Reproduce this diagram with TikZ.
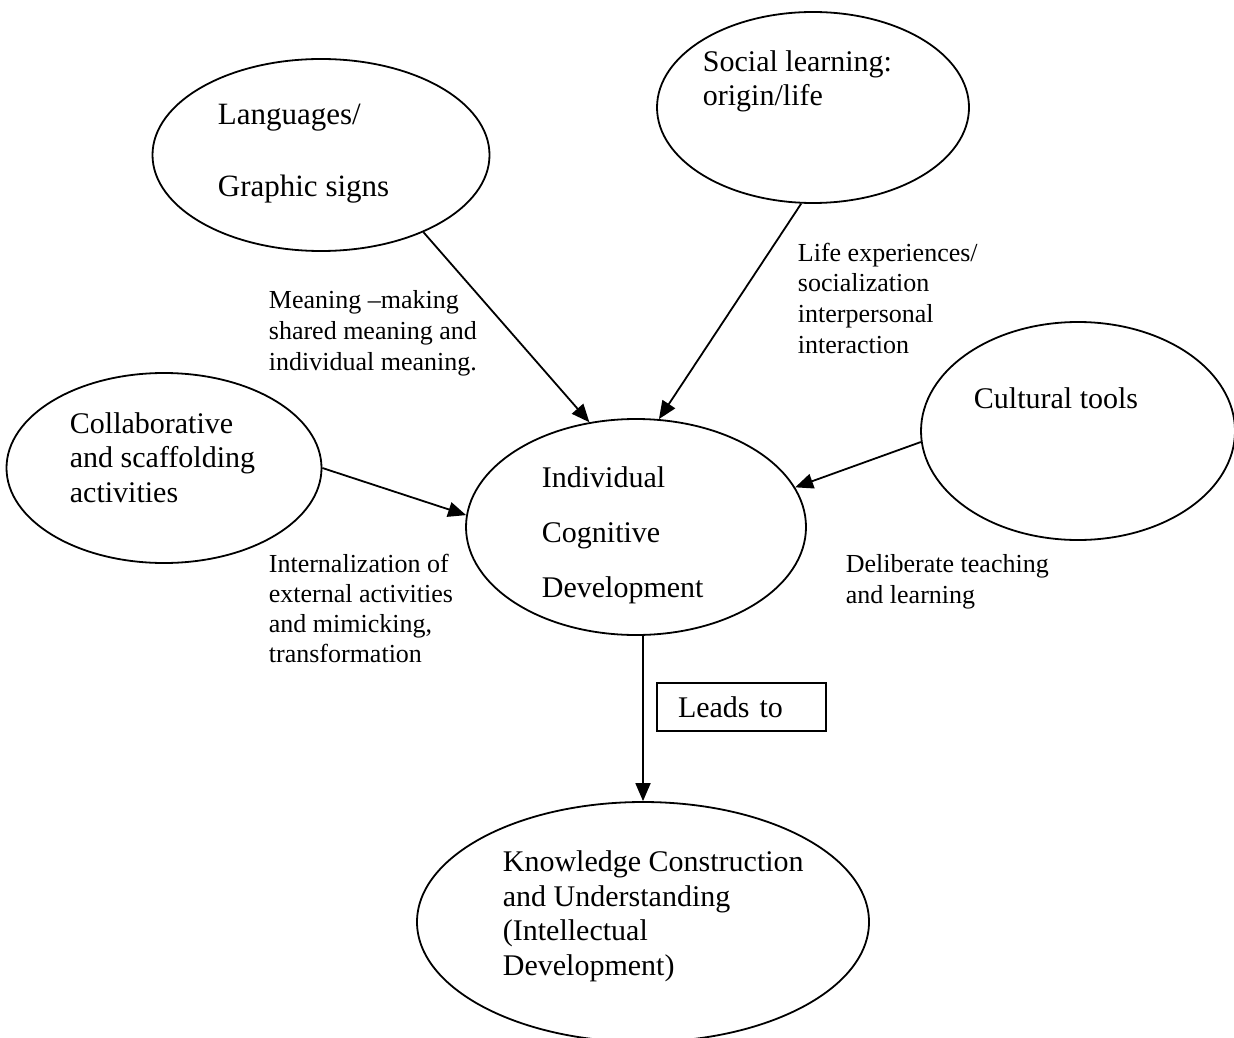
\documentclass[tikz,border=0pt]{standalone}
\usepackage{fontspec}
\setmainfont{Liberation Serif}
\usetikzlibrary{arrows.meta,shapes.geometric}

\begin{document}
\begin{tikzpicture}[x=0.5pt, y=-0.5pt, line width=0.9pt,
		>={Triangle[length=9pt,width=7.5pt]},
		bubble/.style={draw, ellipse, inner sep=0pt},
		bigtext/.style={anchor=base west, inner sep=0pt, align=left, font=\fontsize{15}{17.25}\selectfont},
		labeltext/.style={anchor=base west, inner sep=0pt, align=left, font=\fontsize{13}{15.3}\selectfont}]
		\useasboundingbox (0,0) rectangle (1234,1037);
		% ellipses
		\node[bubble, minimum width=168.5pt, minimum height=96pt] (lang) at (321,155) {};
		\node[bubble, minimum width=156pt, minimum height=95.5pt] (soc) at (813,107.5) {};
		\node[bubble, minimum width=157pt, minimum height=109pt] (cult) at (1078,431) {};
		\node[bubble, minimum width=157.5pt, minimum height=95pt] (collab) at (164,468) {};
		\node[bubble, minimum width=170pt, minimum height=108pt] (indiv) at (636,527) {};
		\node[bubble, minimum width=226pt, minimum height=120pt] (know) at (643,922) {};
		% texts in the ellipses (placed by the baseline of their last line)
		\node[bigtext, font=\fontsize{15.5}{36}\selectfont] (langtxt) at (217,197) {Languages/\\Graphic signs};
		\node[bigtext] (soctxt) at (702,106) {Social learning:\\origin/life};
		\node[bigtext] (culttxt) at (973,408) {Cultural tools};
		\node[bigtext] (collabtxt) at (69,502) {Collaborative\\and scaffolding\\activities};
		\node[bigtext, font=\fontsize{15}{27.5}\selectfont] (indivtxt) at (541,597) {Individual\\Cognitive\\Development};
		\node[bigtext] (knowtxt) at (502,975) {Knowledge Construction\\and Understanding\\(Intellectual\\Development)};
		% arrow labels
		\node[labeltext] (meaning) at (268,370) {Meaning --making\\shared meaning and\\individual meaning.};
		\node[labeltext] (life) at (797,353) {Life experiences/\\socialization\\interpersonal\\interaction};
		\node[labeltext, font=\fontsize{13}{14.9}\selectfont] (intern) at (268,662) {Internalization of\\external activities\\and mimicking,\\transformation};
		\node[labeltext] (delib) at (845,603) {Deliberate teaching\\and learning};
		\node[draw, line width=0.8pt, minimum width=84.5pt, minimum height=24pt, text width=63.5pt, inner xsep=10.5pt,
			align=left, font=\fontsize{15}{17.25}\selectfont] (leads) at (741.5,707) {Leads to};
		% arrows
		\draw[->] (lang.-37) -- (indiv.114);
		\draw[->] (soc.-97) -- (indiv.78);
		\draw[->] (cult.184) -- (indiv.14);
		\draw[->] (collab.0) -- (indiv.176);
		\draw[->] (indiv.south -| know.north) -- (know.north);
	\end{tikzpicture}
\end{document}
